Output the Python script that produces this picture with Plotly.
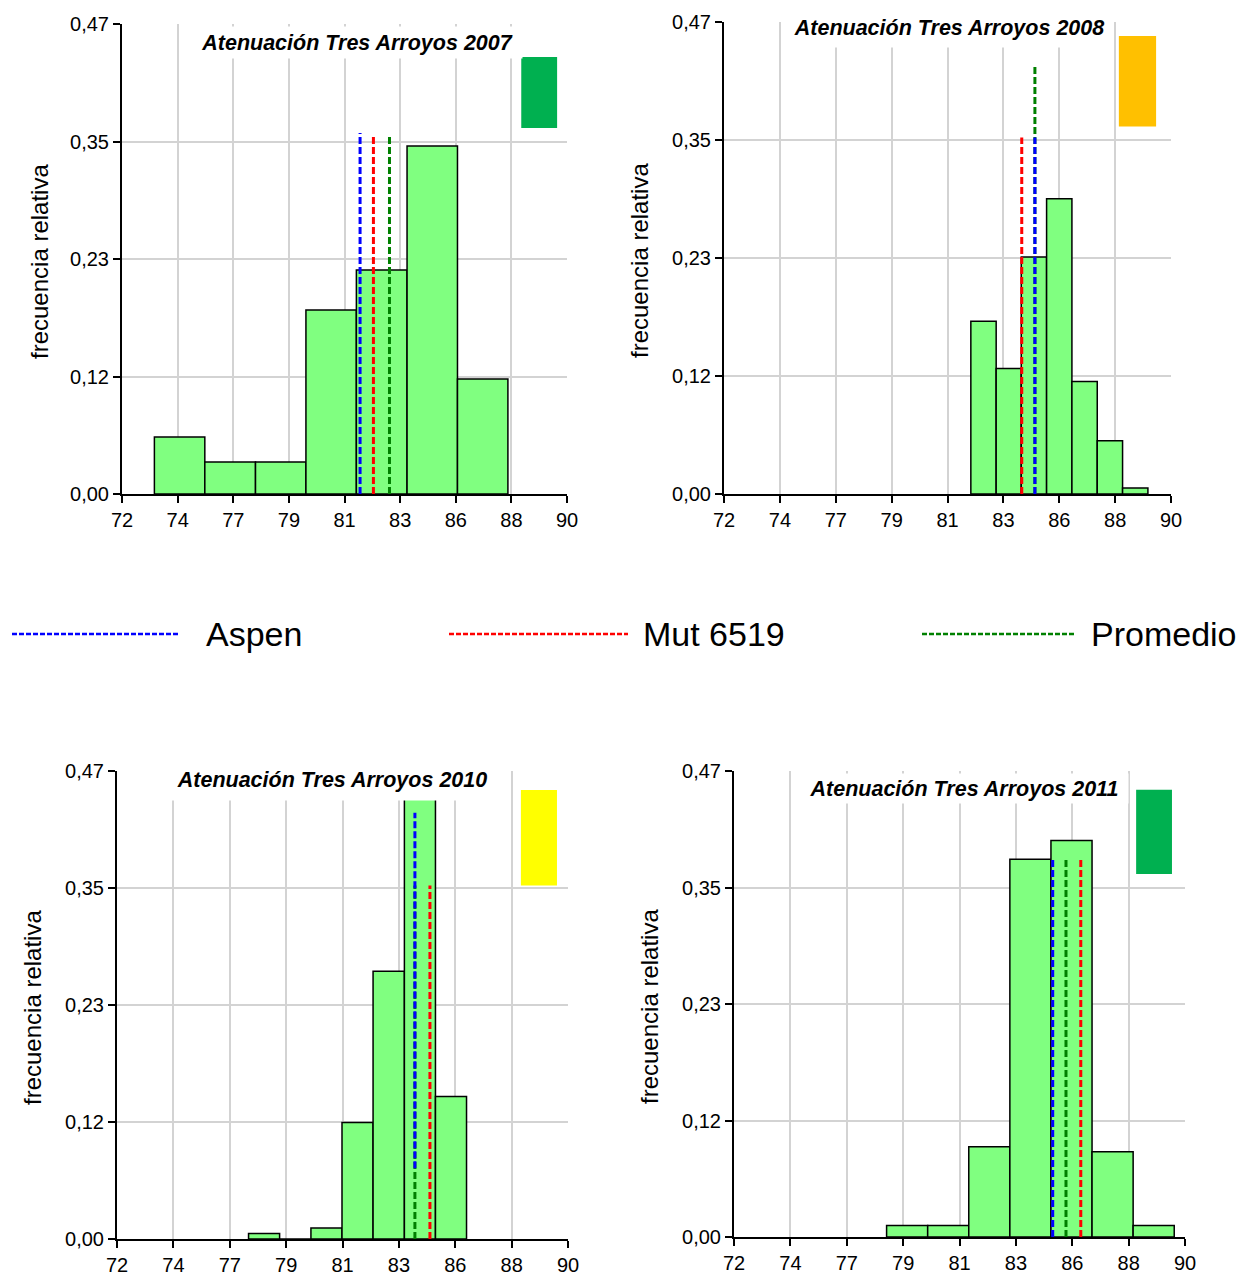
import plotly.graph_objects as go

# ---- data ---------------------------------------------------------------
years = ["2007", "2008", "2010", "2011"]
titles = [f"Atenuación Tres Arroyos {y}" for y in years]

# histogram bin edges (attenuation) and relative frequency of each bin
edges_2007 = [73.31, 75.35, 77.40, 79.44, 81.48, 83.53, 85.57, 87.61]
freq_2007 = [0.057, 0.032, 0.032, 0.184, 0.224, 0.348, 0.115]

edges_2008 = [81.94, 82.96, 83.97, 84.99, 86.01, 87.03, 88.05, 89.07]
freq_2008 = [0.172, 0.125, 0.236, 0.294, 0.112, 0.053, 0.006]

edges_2010 = [77.25, 78.49, 79.74, 80.98, 82.22, 83.47, 84.71, 85.95]
freq_2010 = [0.0054, 0.0, 0.011, 0.117, 0.269, 0.455, 0.143]

edges_2011 = [78.09, 79.73, 81.37, 83.01, 84.65, 86.29, 87.93, 89.57]
freq_2011 = [0.0115, 0.0115, 0.091, 0.381, 0.400, 0.086, 0.0115]

all_edges = [edges_2007, edges_2008, edges_2010, edges_2011]
all_freq = [freq_2007, freq_2008, freq_2010, freq_2011]

# reference lines: value of each cultivar / mean, and vertical extent drawn
aspen_x = [81.63, 84.52, 83.89, 84.72]
aspen_y0 = [0.0, 0.0, 0.071, 0.0]
aspen_y1 = [0.361, 0.355, 0.428, 0.383]

mut6519_x = [82.17, 83.99, 84.49, 85.84]
mut6519_y0 = [0.0, 0.0, 0.0, 0.0]
mut6519_y1 = [0.360, 0.355, 0.355, 0.383]

promedio_x = [82.82, 84.52, 83.89, 85.25]
promedio_y0 = [0.0, 0.0, 0.0, 0.0]
promedio_y1 = [0.359, 0.427, 0.355, 0.383]

status_colors = ["#00B050", "#FFC000", "#FFFF00", "#00B050"]

x_tickvals = [72, 74.25, 76.5, 78.75, 81, 83.25, 85.5, 87.75, 90]
x_ticktext = ["72", "74", "77", "79", "81", "83", "86", "88", "90"]
y_tickvals = [0, 0.1175, 0.235, 0.3525, 0.47]
y_ticktext = ["0,00", "0,12", "0,23", "0,35", "0,47"]

# ---- layout geometry (pixels of the 1237 x 1275 page) -------------------
W, H = 1237, 1275
SANS = "Liberation Sans, Arial, sans-serif"


def px(x):
    return x / W


def py(y):
    return 1 - y / H


# plot areas: (left, right, top, bottom)
areas = [(122, 567, 24, 494), (724, 1171, 22, 494),
         (117, 568, 771, 1239), (734, 1185, 771, 1237)]
# status box per panel (x0, x1, y0, y1 in data units)
status_boxes = [(88.15, 89.6, 0.366, 0.437), (87.9, 89.4, 0.366, 0.456),
                (88.12, 89.56, 0.355, 0.451), (88.05, 89.48, 0.366, 0.451)]
# title boxes: (center x, center y, width, height) in pixels
title_boxes = [(357, 42, 330, 31), (949, 28, 322, 38),
               (332, 780, 322, 40), (964, 788, 328, 29)]
ylabel_pos = [(39, 262), (639, 261), (33, 1008), (649, 1007)]

fig = go.Figure()
layout = dict(
    width=W, height=H, margin=dict(l=0, r=0, t=0, b=0, autoexpand=False),
    paper_bgcolor="white", plot_bgcolor="white", showlegend=False,
    font=dict(family=SANS, color="black"),
)
shapes = []
annotations = []

dash = "7px,3px"
for i in range(4):
    n = i + 1
    xa, ya = f"x{n}" if n > 1 else "x", f"y{n}" if n > 1 else "y"
    left, right, top, bottom = areas[i]
    axis_common = dict(
        showgrid=True, gridcolor="#D3D3D3", gridwidth=1.5,
        showline=True, linecolor="black", linewidth=2,
        ticks="outside", ticklen=7, tickwidth=1.5, tickcolor="black",
        tickfont=dict(family=SANS, size=20, color="black"),
        zeroline=False, fixedrange=True, automargin=False,
    )
    layout[f"xaxis{n if n > 1 else ''}"] = dict(
        domain=[px(left), px(right)], anchor=ya, range=[72, 90],
        tickvals=x_tickvals, ticktext=x_ticktext, **axis_common)
    layout[f"yaxis{n if n > 1 else ''}"] = dict(
        domain=[py(bottom), py(top)], anchor=xa, range=[0, 0.47],
        tickvals=y_tickvals, ticktext=y_ticktext, **axis_common)

    edges = all_edges[i]
    widths = [edges[k + 1] - edges[k] for k in range(len(edges) - 1)]
    centers = [edges[k] + widths[k] / 2 for k in range(len(widths))]
    fig.add_trace(go.Bar(
        x=centers, y=all_freq[i], width=widths, xaxis=xa, yaxis=ya,
        marker=dict(color="#80FF80", line=dict(color="black", width=1.5)),
    ))

    for lx, y0, y1, col in [
        (promedio_x[i], promedio_y0[i], promedio_y1[i], "#008000"),
        (mut6519_x[i], mut6519_y0[i], mut6519_y1[i], "#FF0000"),
        (aspen_x[i], aspen_y0[i], aspen_y1[i], "#0000FF"),
    ]:
        fig.add_trace(go.Scatter(
            x=[lx, lx], y=[y0, y1], mode="lines", xaxis=xa, yaxis=ya,
            line=dict(color=col, width=3, dash=dash),
        ))

    bx0, bx1, by0, by1 = status_boxes[i]
    shapes.append(dict(type="rect", xref=xa, yref=ya, x0=bx0, x1=bx1,
                       y0=by0, y1=by1, fillcolor=status_colors[i],
                       line=dict(width=0), layer="above"))

    cx, cy, bw, bh = title_boxes[i]
    annotations.append(dict(
        text=f"<b><i>{titles[i]}</i></b>", xref="paper", yref="paper",
        x=px(cx), y=py(cy), xanchor="center", yanchor="middle",
        width=bw, height=bh, bgcolor="white", borderpad=0,
        showarrow=False, font=dict(family=SANS, size=21.5, color="black"),
    ))
    lx_, ly_ = ylabel_pos[i]
    annotations.append(dict(
        text="frecuencia relativa", xref="paper", yref="paper",
        x=px(lx_), y=py(ly_), xanchor="center", yanchor="middle",
        textangle=-90, showarrow=False,
        font=dict(family=SANS, size=24, color="black"),
    ))

# key shared by the four panels
key_y = 634
for (x0, x1, tx, label, col) in [
    (12, 180, 205, "Aspen", "#0000FF"),
    (449, 628, 642, "Mut 6519", "#FF0000"),
    (922, 1075, 1090, "Promedio", "#008000"),
]:
    shapes.append(dict(type="line", xref="paper", yref="paper",
                       x0=px(x0), x1=px(x1), y0=py(key_y), y1=py(key_y),
                       line=dict(color=col, width=2.5, dash="5px,2px")))
    annotations.append(dict(
        text=label, xref="paper", yref="paper", x=px(tx), y=py(key_y),
        xanchor="left", yanchor="middle", showarrow=False, borderpad=0,
        font=dict(family=SANS, size=34, color="black"),
    ))

layout["shapes"] = shapes
layout["annotations"] = annotations
fig.update_layout(**layout)
fig.write_html("out.html")
